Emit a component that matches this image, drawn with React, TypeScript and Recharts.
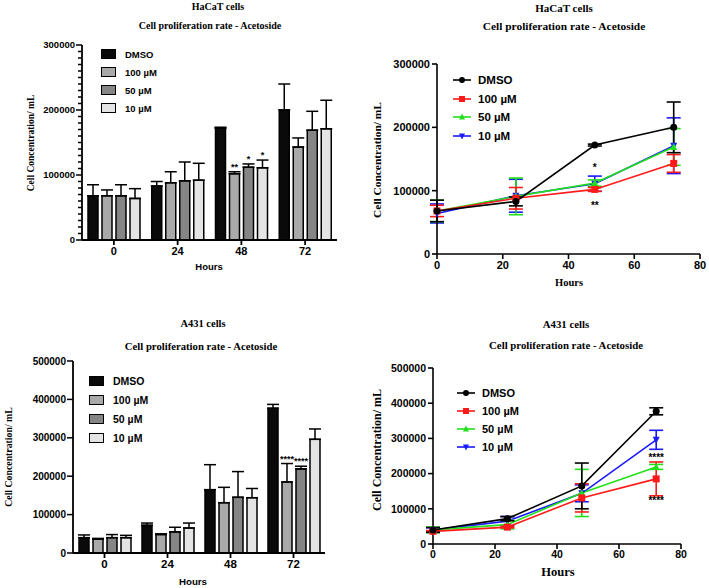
import React from 'react';
import {
  BarChart, Bar, LineChart, Line, XAxis, YAxis, ErrorBar, LabelList, ReferenceDot,
} from 'recharts';

// shared time points
const hours = [0, 24, 48, 72];
const hourLabels = ['0', '24', '48', '72'];
const seriesNames = ['DMSO', '100 µM', '50 µM', '10 µM'];

// HaCaT cells (mean, sd)
const hacatDmso = [68000, 83000, 172000, 200000];
const hacatDmsoSd = [17000, 7000, 1500, 40000];
const hacat100 = [68000, 88000, 102000, 143000];
const hacat100Sd = [9000, 17000, 3000, 14000];
const hacat50 = [68000, 91000, 112000, 169000];
const hacat50Sd = [17000, 29000, 5000, 29000];
const hacat10 = [64000, 92000, 111000, 171000];
const hacat10Sd = [15000, 26000, 12000, 44000];
const hacatSig = [['', '', '', ''], ['', '', '**', ''], ['', '', '*', ''], ['', '', '*', '']];

// A431 cells (mean, sd)
const a431Dmso = [40000, 72000, 165000, 377000];
const a431DmsoSd = [7000, 6000, 65000, 10000];
const a431_100 = [36000, 48000, 131000, 185000];
const a431_100Sd = [2000, 2000, 40000, 48000];
const a431_50 = [40000, 55000, 145000, 219000];
const a431_50Sd = [8000, 12000, 67000, 7000];
const a431_10 = [40000, 65000, 144000, 296000];
const a431_10Sd = [6000, 13000, 24000, 27000];
const a431Sig = [['', '', '', ''], ['', '', '', '****'], ['', '', '', '****'], ['', '', '', '']];

// asterisks on the line plots: [hour, value, text]
const hacatLineMarks: [number, number, string][] = [[48, 137000, '*'], [48, 77000, '**']];
const a431LineMarks: [number, number, string][] = [[72, 247000, '****'], [72, 125000, '****']];

const BAR_FILLS = ['#0a0a0a', '#a9a9a9', '#858585', '#e4e4e4'];
const LINE_COLORS = ['#000000', '#ff1a1a', '#22e01a', '#1a1aff'];
const SHAPES = ['circle', 'square', 'up', 'down'];
const KEYS = ['dmso', 'c100', 'c50', 'c10'];

const SANS = '"Liberation Sans", Arial, sans-serif';
const SERIF = '"Liberation Serif", "Times New Roman", serif';

function buildRows(means: number[][], sds: number[][], sig: string[][], asBars: boolean) {
  return hours.map((h, i) => {
    const row: any = { hour: h, label: hourLabels[i] };
    KEYS.forEach((k, s) => {
      row[k] = means[s][i];
      row[k + 'Sd'] = asBars ? [0, sds[s][i]] : sds[s][i];
      row[k + 'Sig'] = sig[s][i];
    });
    return row;
  });
}

const hacatMeans = [hacatDmso, hacat100, hacat50, hacat10];
const hacatSds = [hacatDmsoSd, hacat100Sd, hacat50Sd, hacat10Sd];
const a431Means = [a431Dmso, a431_100, a431_50, a431_10];
const a431Sds = [a431DmsoSd, a431_100Sd, a431_50Sd, a431_10Sd];

function Marker({ cx, cy, shape, color, size = 3.5 }: any) {
  if (cx == null || cy == null) return null;
  if (shape === 'circle') return <circle cx={cx} cy={cy} r={size} fill={color} />;
  if (shape === 'square') return <rect x={cx - size} y={cy - size} width={size * 2} height={size * 2} fill={color} />;
  if (shape === 'up')
    return <polygon points={`${cx},${cy - size - 0.5} ${cx - size},${cy + size - 0.5} ${cx + size},${cy + size - 0.5}`} fill={color} />;
  return <polygon points={`${cx},${cy + size + 0.5} ${cx - size},${cy - size + 0.5} ${cx + size},${cy - size + 0.5}`} fill={color} />;
}

function Text({ x, y, size, serif, children, rotate }: any) {
  return (
    <div
      style={{
        position: 'absolute', left: x, top: y, whiteSpace: 'nowrap',
        transform: `translate(-50%, -50%)${rotate ? ' rotate(-90deg)' : ''}`,
        fontFamily: serif ? SERIF : SANS, fontWeight: 700, fontSize: size, color: '#000', lineHeight: 1,
      }}
    >
      {children}
    </div>
  );
}

function BarLegend({ x, y, size, rowGap }: any) {
  return (
    <div style={{ position: 'absolute', left: x, top: y, fontFamily: SANS, fontWeight: 700, fontSize: size }}>
      {seriesNames.map((n, i) => (
        <div key={n} style={{ display: 'flex', alignItems: 'center', height: rowGap }}>
          <div style={{ width: 13, height: 8, background: BAR_FILLS[i], border: '1.5px solid #000', marginRight: 9 }} />
          <span>{n}</span>
        </div>
      ))}
    </div>
  );
}

function LineLegend({ x, y, size, rowGap }: any) {
  return (
    <div style={{ position: 'absolute', left: x, top: y, fontFamily: SANS, fontWeight: 700, fontSize: size }}>
      {seriesNames.map((n, i) => (
        <div key={n} style={{ display: 'flex', alignItems: 'center', height: rowGap }}>
          <svg width={20} height={10} style={{ marginRight: 6 }}>
            <line x1={1} y1={5} x2={19} y2={5} stroke={LINE_COLORS[i]} strokeWidth={1.6} />
            <Marker cx={10} cy={5} shape={SHAPES[i]} color={LINE_COLORS[i]} size={3} />
          </svg>
          <span>{n}</span>
        </div>
      ))}
    </div>
  );
}

function SigLabel(props: any) {
  const { x, y, width, height, value, index, rows, k } = props;
  if (!value) return null;
  const mean = rows[index][k];
  const sd = rows[index][k + 'Sd'][1];
  const top = y - (sd * height) / mean;
  return (
    <text x={x + width / 2} y={top - 2} textAnchor="middle" fontFamily={SANS} fontWeight={700} fontSize={9}>
      {value}
    </text>
  );
}

function BarPanel({ rows, w, h, left, right, top, bottom, xAxisH, domain, ticks, minorStep, tickSize }: any) {
  const all: number[] = [];
  for (let v = domain[0]; v <= domain[1]; v += minorStep) all.push(v);
  const yTick = (p: any) => {
    const major = ticks.includes(p.payload.value);
    return (
      <g>
        <line x1={left - (major ? 6 : 4)} x2={left} y1={p.y} y2={p.y} stroke="#000" strokeWidth={1.5} />
        {major && (
          <text x={left - 7} y={p.y} dy="0.35em" textAnchor="end" fontFamily={SANS} fontWeight={700} fontSize={tickSize}>
            {p.payload.value}
          </text>
        )}
      </g>
    );
  };
  return (
    <BarChart width={w} height={h} data={rows} margin={{ top, right, left: 0, bottom }} barSize={10} barGap={4}>
      <XAxis dataKey="label" height={xAxisH} stroke="#000" strokeWidth={1.8} tickSize={5}
        tick={{ fontFamily: SANS, fontWeight: 700, fontSize: tickSize + 1.5, fill: '#000' }} />
      <YAxis width={left} domain={domain} ticks={all} interval={0} stroke="#000" strokeWidth={1.8}
        tickLine={false} tick={yTick} allowDataOverflow />
      {KEYS.map((k, i) => (
        <Bar key={k} dataKey={k} fill={BAR_FILLS[i]} stroke="#000" strokeWidth={1.5} isAnimationActive={false}>
          <ErrorBar dataKey={k + 'Sd'} width={6} stroke="#000" strokeWidth={1.5} direction="y" />
          <LabelList dataKey={k + 'Sig'} content={(p: any) => <SigLabel {...p} rows={rows} k={k} />} />
        </Bar>
      ))}
    </BarChart>
  );
}

function LinePanel({ rows, w, h, left, right, top, bottom, xAxisH, domain, ticks, tickSize, marks }: any) {
  const order = [3, 2, 1, 0];
  return (
    <LineChart width={w} height={h} data={rows} margin={{ top, right, left: 0, bottom }}>
      <XAxis dataKey="hour" type="number" domain={[0, 80]} ticks={[0, 20, 40, 60, 80]} height={xAxisH}
        stroke="#000" strokeWidth={1.6} tickSize={5}
        tick={{ fontFamily: SANS, fontWeight: 700, fontSize: tickSize, fill: '#000' }} />
      <YAxis width={left} domain={domain} ticks={ticks} interval={0} stroke="#000" strokeWidth={1.6} tickSize={5}
        tick={{ fontFamily: SANS, fontWeight: 700, fontSize: tickSize, fill: '#000' }} />
      {order.map((i) => (
        <Line key={KEYS[i]} dataKey={KEYS[i]} stroke={LINE_COLORS[i]} strokeWidth={1.6} isAnimationActive={false}
          dot={(p: any) => <Marker key={p.index} cx={p.cx} cy={p.cy} shape={SHAPES[i]} color={LINE_COLORS[i]} />}>
          <ErrorBar dataKey={KEYS[i] + 'Sd'} width={7} stroke={LINE_COLORS[i]} strokeWidth={1.6} direction="y" />
        </Line>
      ))}
      {marks.map((m: any, j: number) => (
        <ReferenceDot key={j} x={m[0]} y={m[1]} r={0} stroke="none" ifOverflow="visible"
          label={{ value: m[2], position: 'center', fontFamily: SANS, fontWeight: 700, fontSize: 10, fill: '#000' }} />
      ))}
    </LineChart>
  );
}

export default function App() {
  const hacatBars = buildRows(hacatMeans, hacatSds, hacatSig, true);
  const hacatLines = buildRows(hacatMeans, hacatSds, hacatSig, false);
  const a431Bars = buildRows(a431Means, a431Sds, a431Sig, true);
  const a431Lines = buildRows(a431Means, a431Sds, a431Sig, false);
  const sub = 'Cell proliferation rate - Acetoside';
  const yLab = 'Cell Concentration/ mL';

  return (
    <div style={{ position: 'absolute', left: 0, top: 0, width: 709, height: 588, background: '#fff', overflow: 'hidden' }}>
      {/* top left: HaCaT bars */}
      <div style={{ position: 'absolute', left: 0, top: 0 }}>
        <BarPanel rows={hacatBars} w={350} h={285} left={82} right={13} top={45} bottom={10} xAxisH={35}
          domain={[0, 300000]} ticks={[0, 100000, 200000, 300000]} minorStep={10000} tickSize={9.5} />
      </div>
      <BarLegend x={101} y={45} size={9.5} rowGap={18} />
      <Text x={218} y={7} size={10} serif>HaCaT cells</Text>
      <Text x={210} y={26} size={10} serif>{sub}</Text>
      <Text x={32} y={143} size={9.5} serif rotate>{yLab}</Text>
      <Text x={209} y={267} size={9.5}>Hours</Text>

      {/* top right: HaCaT lines */}
      <div style={{ position: 'absolute', left: 360, top: 0 }}>
        <LinePanel rows={hacatLines} w={349} h={290} left={77} right={9} top={64} bottom={10} xAxisH={26}
          domain={[0, 300000]} ticks={[0, 100000, 200000, 300000]} tickSize={11} marks={hacatLineMarks} />
      </div>
      <LineLegend x={452} y={71} size={11.5} rowGap={18.5} />
      <Text x={564} y={8} size={11} serif>HaCaT cells</Text>
      <Text x={564} y={27} size={11.4} serif>{sub}</Text>
      <Text x={378} y={160} size={11.4} serif rotate>{yLab}</Text>
      <Text x={569} y={283} size={10.5} serif>Hours</Text>

      {/* bottom left: A431 bars */}
      <div style={{ position: 'absolute', left: 0, top: 290 }}>
        <BarPanel rows={a431Bars} w={340} h={298} left={73} right={15} top={71} bottom={5} xAxisH={30}
          domain={[0, 500000]} ticks={[0, 100000, 200000, 300000, 400000, 500000]} minorStep={100000} tickSize={10} />
      </div>
      <BarLegend x={89} y={371} size={10.5} rowGap={19} />
      <Text x={203} y={324} size={10.5} serif>A431 cells</Text>
      <Text x={201} y={346} size={10.7} serif>{sub}</Text>
      <Text x={9} y={457} size={9.8} serif rotate>{yLab}</Text>
      <Text x={193} y={582} size={9.7}>Hours</Text>

      {/* bottom right: A431 lines */}
      <div style={{ position: 'absolute', left: 360, top: 290 }}>
        <LinePanel rows={a431Lines} w={349} h={298} left={73} right={28} top={78} bottom={14} xAxisH={30}
          domain={[0, 500000]} ticks={[0, 100000, 200000, 300000, 400000, 500000]} tickSize={10.5} marks={a431LineMarks} />
      </div>
      <LineLegend x={456} y={384} size={11} rowGap={18} />
      <Text x={566} y={324} size={10.8} serif>A431 cells</Text>
      <Text x={566} y={345} size={10.8} serif>{sub}</Text>
      <Text x={377} y={450} size={12} serif rotate>{yLab}</Text>
      <Text x={558} y={572} size={12.5} serif>Hours</Text>
    </div>
  );
}
